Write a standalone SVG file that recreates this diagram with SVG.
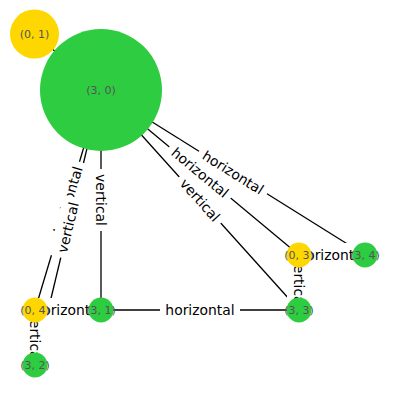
<svg xmlns="http://www.w3.org/2000/svg" width="400" height="400" viewBox="0 0 400 400">
  <style>
    .edge { stroke: #000; stroke-width: 1.3; fill: none; }
    .elbl text { font-family: "DejaVu Sans", sans-serif; font-size: 13.9px; fill: #000; text-anchor: middle; dominant-baseline: central; }
    .gold { fill: #ffd700; }
    .green { fill: #2ecc40; }
    .nlbl { font-family: "DejaVu Sans", sans-serif; font-size: 11px; fill: #555; text-anchor: middle; dominant-baseline: central; }
  </style>
  <defs>
    <!-- white label backgrounds -->
    <rect id="boxH" x="-40" y="-12" width="80" height="24" rx="4" fill="#fff"/>
    <rect id="boxV" x="-31" y="-12" width="62" height="24" rx="4" fill="#fff"/>
  </defs>

  <!-- connectors -->
  <g id="edges">
    <line class="edge" x1="34.5" y1="34" x2="101" y2="90"/>
    <line class="edge" x1="101" y1="90" x2="35" y2="310"/>
    <line class="edge" x1="101" y1="90" x2="35" y2="365"/>
    <line class="edge" x1="101" y1="90" x2="101" y2="310"/>
    <line class="edge" x1="101" y1="90" x2="365" y2="255"/>
    <line class="edge" x1="101" y1="90" x2="299" y2="255"/>
    <line class="edge" x1="101" y1="90" x2="299" y2="310"/>
    <line class="edge" x1="299" y1="255" x2="365" y2="255"/>
    <line class="edge" x1="299" y1="255" x2="299" y2="310"/>
    <line class="edge" x1="35" y1="310" x2="101" y2="310"/>
    <line class="edge" x1="35" y1="310" x2="35" y2="365"/>
    <line class="edge" x1="101" y1="310" x2="299" y2="310"/>
  </g>

  <!-- connector labels -->
  <g id="edge-labels">
    <g class="elbl" transform="translate(68,200) rotate(-73.3)"><use href="#boxH"/><text>horizontal</text></g>
    <g class="elbl" transform="translate(68,227.5) rotate(-76.5)"><use href="#boxV"/><text>vertical</text></g>
    <g class="elbl" transform="translate(101,200) rotate(90)"><use href="#boxV"/><text>vertical</text></g>
    <g class="elbl" transform="translate(233,172.5) rotate(32)"><use href="#boxH"/><text>horizontal</text></g>
    <g class="elbl" transform="translate(200,172.5) rotate(39.8)"><use href="#boxH"/><text>horizontal</text></g>
    <g class="elbl" transform="translate(200,200) rotate(48)"><use href="#boxV"/><text>vertical</text></g>
    <g class="elbl" transform="translate(332,255)"><use href="#boxH"/><text>horizontal</text></g>
    <g class="elbl" transform="translate(299,282.5) rotate(90)"><use href="#boxV"/><text>vertical</text></g>
    <g class="elbl" transform="translate(68,310)"><use href="#boxH"/><text>horizontal</text></g>
    <g class="elbl" transform="translate(35,337.5) rotate(90)"><use href="#boxV"/><text>vertical</text></g>
    <g class="elbl" transform="translate(200,310)"><use href="#boxH"/><text>horizontal</text></g>
  </g>

  <!-- nodes -->
  <g id="node-0-1"><circle class="gold" cx="34.5" cy="34" r="24.5"/><text class="nlbl" x="34.5" y="34">(0, 1)</text></g>
  <g id="node-3-0"><circle class="green" cx="101" cy="90" r="61"/><text class="nlbl" x="101" y="90">(3, 0)</text></g>
  <g id="node-0-4"><circle class="gold" cx="35" cy="310" r="12.5"/><text class="nlbl" x="35" y="310">(0, 4)</text></g>
  <g id="node-3-1"><circle class="green" cx="101" cy="310" r="12.5"/><text class="nlbl" x="101" y="310">(3, 1)</text></g>
  <g id="node-3-2"><circle class="green" cx="35" cy="365" r="12.5"/><text class="nlbl" x="35" y="365">(3, 2)</text></g>
  <g id="node-0-3"><circle class="gold" cx="299" cy="255" r="12.5"/><text class="nlbl" x="299" y="255">(0, 3)</text></g>
  <g id="node-3-4"><circle class="green" cx="365" cy="255" r="12.5"/><text class="nlbl" x="365" y="255">(3, 4)</text></g>
  <g id="node-3-3"><circle class="green" cx="299" cy="310" r="12.5"/><text class="nlbl" x="299" y="310">(3, 3)</text></g>
</svg>
